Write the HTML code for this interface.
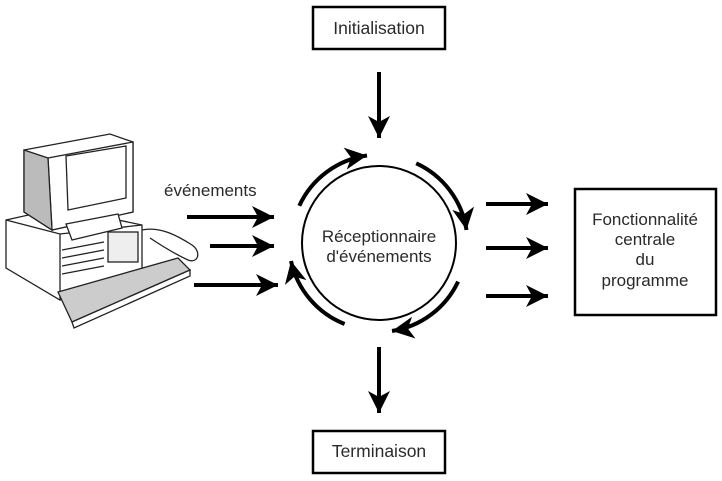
<!DOCTYPE html>
<html><head><meta charset="utf-8"><style>
html,body{margin:0;padding:0;background:#fff;}
svg{display:block;}
text{font-family:"Liberation Sans",sans-serif;fill:#2a2a2a;}
</style></head><body>
<svg width="722" height="481" viewBox="0 0 722 481" xmlns="http://www.w3.org/2000/svg">
<defs>
<marker id="ah" markerUnits="userSpaceOnUse" markerWidth="26" markerHeight="24" refX="22" refY="12" orient="auto">
<polygon points="0,1 22,12 0,23 6,12" fill="#000"/>
</marker>
</defs>
<rect x="313" y="7" width="132" height="42" fill="#fff" stroke="#000" stroke-width="2.5"/>
<text x="379" y="34" font-size="17.5" text-anchor="middle">Initialisation</text>
<rect x="313" y="431" width="132" height="42" fill="#fff" stroke="#000" stroke-width="2.5"/>
<text x="379" y="457" font-size="17.5" text-anchor="middle">Terminaison</text>
<rect x="575" y="189" width="141" height="126" fill="#fff" stroke="#000" stroke-width="2.5"/>
<g font-size="17" text-anchor="middle">
<text x="645" y="225">Fonctionnalité</text>
<text x="645" y="245">centrale</text>
<text x="645" y="265">du</text>
<text x="645" y="286">programme</text>
</g>
<circle cx="379" cy="243" r="77" fill="#fff" stroke="#000" stroke-width="2"/>
<text x="379" y="242" font-size="17" text-anchor="middle">Réceptionnaire</text>
<text x="379" y="262" font-size="17" text-anchor="middle">d'événements</text>
<g fill="none" stroke="#000" stroke-width="4" marker-end="url(#ah)">
<path d="M299.3,205.8 A88,88 0 0 1 367,155.5"/>
<path d="M416.2,163.3 A88,88 0 0 1 466.5,230"/>
<path d="M458.1,281.6 A88,88 0 0 1 392,331"/>
<path d="M344.6,324 A88,88 0 0 1 291,261"/>
</g>
<g stroke="#000" stroke-width="4" marker-end="url(#ah)">
<line x1="379" y1="72" x2="379" y2="138"/>
<line x1="379" y1="347" x2="379" y2="413"/>
<line x1="486" y1="204" x2="548" y2="204"/>
<line x1="486" y1="248" x2="548" y2="248"/>
<line x1="486" y1="296" x2="548" y2="296"/>
<line x1="187" y1="217" x2="274" y2="217"/>
<line x1="210" y1="246" x2="274" y2="246"/>
<line x1="194" y1="285" x2="278" y2="285"/>
</g>
<text x="164" y="196" font-size="17">événements</text>
<g stroke="#222" stroke-width="1.3" fill="#fff">
<polygon points="6,220 60,208 142,225 142,283 60,300 6,268"/>
<polyline points="6,220 60,234 142,225" fill="none"/>
<line x1="60" y1="234" x2="60" y2="300"/>
<rect x="108" y="232" width="30" height="30" fill="#eee"/>
<line x1="62" y1="250" x2="104" y2="242"/>
<line x1="62" y1="258" x2="104" y2="250"/>
<line x1="62" y1="266" x2="104" y2="258"/>
<line x1="62" y1="274" x2="104" y2="266"/>
<polygon points="24,150 110,134 133,142 133,212 52,230 24,212"/>
<polygon points="48,158 133,142 133,212 52,230"/>
<polygon points="66,156 126,146 126,198 68,210" fill="#fff"/>
<polygon points="24,150 48,158 52,230 24,212" fill="#bbb"/>
<polygon points="66,224 118,214 122,228 72,240"/>
<polygon points="58,292 178,258 190,270 72,322" fill="#ccc"/>
<polygon points="72,322 190,270 190,276 74,328"/>
<path d="M142,230 C160,226 178,236 192,245 C202,252 198,264 188,260 C175,254 162,246 150,238" fill="#fff"/>
</g>
</svg>
</body></html>
